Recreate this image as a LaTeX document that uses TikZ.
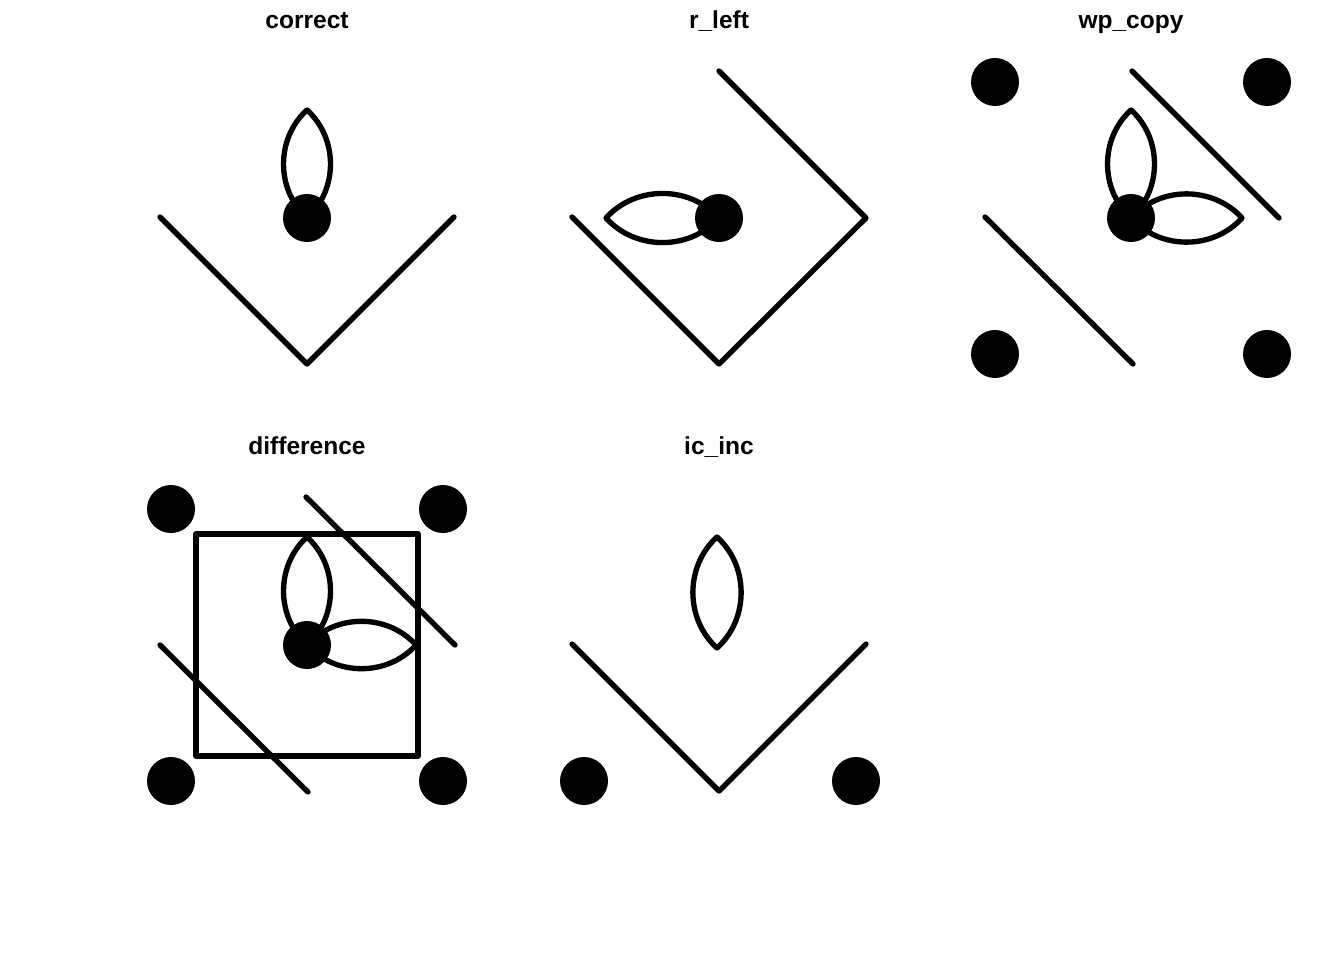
\documentclass[tikz,border=0pt]{standalone}
\usepackage{fontspec}
\setmainfont{Liberation Sans}
\usetikzlibrary{positioning}

\begin{document}
\begin{tikzpicture}[x=0.75pt, y=-0.75pt,
        title/.style={font=\fontsize{18.4}{22}\selectfont\bfseries, anchor=base},
        dot/.style={circle, fill=black, inner sep=0pt, minimum size=36pt},
        wire/.style={line width=4pt, line cap=round, line join=round}
    ]
    \useasboundingbox (0,0) rectangle (1344,960);

    % correct
    \node[title] (t-correct) at (307,28) {correct};
    \begin{scope}[shift={(307,218)}]
        \draw[wire] (-147,-1) -- (0,146) -- (147,-1);
        \node[dot] (c-dot) at (0,0) {};
        \coordinate (c-tip) at (0,-108);
        \draw[wire] (c-dot.center) to[bend left=48] (c-tip) to[bend left=48] (c-dot.center);
    \end{scope}

    % r_left
    \node[title] (t-rleft) at (719,28) {r\_left};
    \begin{scope}[shift={(719,218)}]
        \draw[wire] (-147,-1) -- (0,146) -- (147,0) -- (0,-147);
        \node[dot] (r-dot) at (0,0) {};
        \coordinate (r-tip) at (-113,0);
        \draw[wire] (r-dot.center) to[bend left=48] (r-tip) to[bend left=48] (r-dot.center);
    \end{scope}

    % wp_copy
    \node[title] (t-wpcopy) at (1131,28) {wp\_copy};
    \begin{scope}[shift={(1131,218)}]
        \node[dot] (w-nw) at (-136,-136) {};
        \node[dot] (w-ne) at (136,-136) {};
        \node[dot] (w-sw) at (-136,136) {};
        \node[dot] (w-se) at (136,136) {};
        \draw[wire] (-146,-1) -- (2,146);
        \draw[wire] (1,-147) -- (148,0);
        \node[dot] (w-dot) at (0,0) {};
        \coordinate (w-top) at (0,-108);
        \coordinate (w-right) at (111,0);
        \draw[wire] (w-dot.center) to[bend left=48] (w-top) to[bend left=48] (w-dot.center);
        \draw[wire] (w-dot.center) to[bend left=48] (w-right) to[bend left=48] (w-dot.center);
    \end{scope}

    % difference
    \node[title] (t-diff) at (307,454) {difference};
    \begin{scope}[shift={(307,645)}]
        \node[dot] (d-nw) at (-136,-136) {};
        \node[dot] (d-ne) at (136,-136) {};
        \node[dot] (d-sw) at (-136,136) {};
        \node[dot] (d-se) at (136,136) {};
        \draw[wire] (-111,-111) rectangle (111,111);
        \draw[wire] (-147,0) -- (1,147);
        \draw[wire] (-1,-148) -- (148,0);
        \node[dot] (d-dot) at (0,0) {};
        \coordinate (d-top) at (0,-108);
        \coordinate (d-right) at (109,0);
        \draw[wire] (d-dot.center) to[bend left=48] (d-top) to[bend left=48] (d-dot.center);
        \draw[wire] (d-dot.center) to[bend left=48] (d-right) to[bend left=48] (d-dot.center);
    \end{scope}

    % ic_inc
    \node[title] (t-icinc) at (719,454) {ic\_inc};
    \begin{scope}[shift={(719,645)}]
        \draw[wire] (-147,-1) -- (0,146) -- (147,-1);
        \node[dot] (i-sw) at (-135,136) {};
        \node[dot] (i-se) at (137,136) {};
        \coordinate (i-low) at (-2,3);
        \coordinate (i-tip) at (-2,-108);
        \draw[wire] (i-low) to[bend left=48] (i-tip) to[bend left=48] (i-low);
    \end{scope}
\end{tikzpicture}
\end{document}
